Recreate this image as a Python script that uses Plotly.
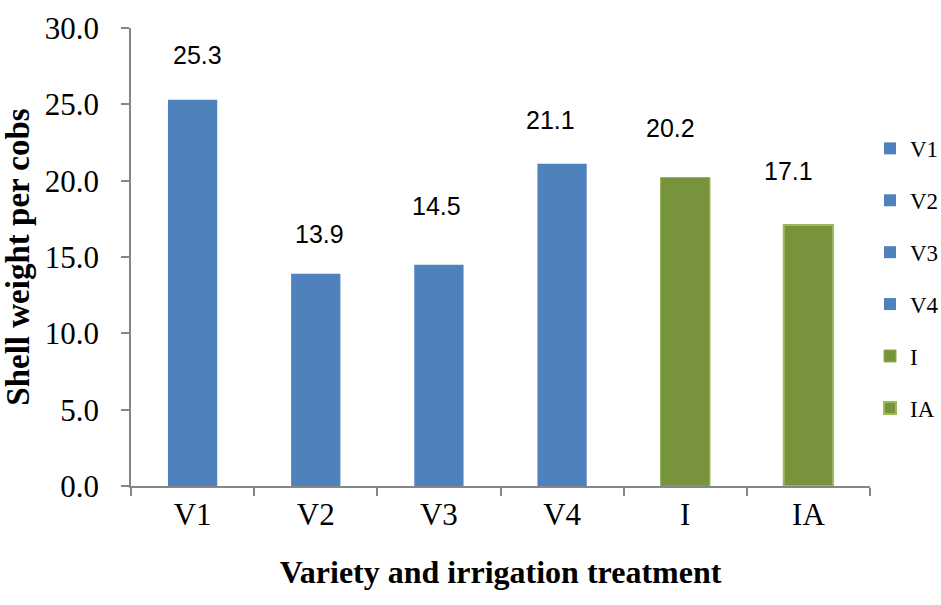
import plotly.graph_objects as go

categories = ["V1", "V2", "V3", "V4", "I", "IA"]
values = [25.3, 13.9, 14.5, 21.1, 20.2, 17.1]
bar_colors = ["#4F81BD", "#4F81BD", "#4F81BD", "#4F81BD", "#77933C", "#77933C"]
edge_colors = ["#4F81BD", "#4F81BD", "#4F81BD", "#4F81BD", "#8FB04E", "#9BBB59"]
edge_widths = [0, 0, 0, 0, 1, 2]
# label placement offsets (pixels) relative to the bar top / centre
label_yshift = [45, 40, 59, 44, 50, 54]
label_xshift = [5, 4, -2, -12, -15, -20]
y_ticks = [0, 5, 10, 15, 20, 25, 30]

SERIF = "Liberation Serif, Times New Roman, serif"

fig = go.Figure()
for i, cat in enumerate(categories):
    fig.add_trace(go.Bar(
        x=[cat], y=[values[i]], name=cat, legendgroup=cat,
        width=0.4,
        marker=dict(color=bar_colors[i],
                    line=dict(color=edge_colors[i], width=edge_widths[i])),
    ))
    fig.add_annotation(
        x=cat, y=values[i], text=f"{values[i]:.1f}", showarrow=False,
        yanchor="middle", xanchor="center",
        yshift=label_yshift[i], xshift=label_xshift[i],
        font=dict(family="Liberation Sans, Arial, sans-serif", size=25, color="#000000"),
    )

axis_color = "#868686"
fig.update_layout(
    width=941, height=605,
    margin=dict(l=131, r=71, t=28, b=119, autoexpand=False),
    paper_bgcolor="white", plot_bgcolor="white",
    barmode="overlay",
    showlegend=True,
    legend=dict(
        x=1.0, xanchor="left", y=0.784, yanchor="top",
        font=dict(family=SERIF, size=23, color="#000000"),
        tracegroupgap=19, itemwidth=30,
        bgcolor="rgba(0,0,0,0)",
    ),
    xaxis=dict(
        categoryorder="array", categoryarray=categories,
        showline=True, linecolor=axis_color, linewidth=1.5,
        ticks="outside", tickson="boundaries", ticklen=8, tickcolor=axis_color, tickwidth=1.5,
        tickfont=dict(family=SERIF, size=31, color="#000000"),
        showgrid=False, zeroline=False,
        title=dict(text="<b>Variety and irrigation treatment</b>", standoff=30,
                   font=dict(family=SERIF, size=32, color="#000000")),
    ),
    yaxis=dict(
        range=[0, 30], tickvals=y_ticks, tickformat=".1f",
        showline=True, linecolor=axis_color, linewidth=1.5,
        ticks="outside", ticklen=8, tickcolor=axis_color, tickwidth=1.5,
        tickfont=dict(family=SERIF, size=31, color="#000000"),
        ticklabelstandoff=16,
        showgrid=False, zeroline=False,
        title=dict(text="<b>Shell weight per cobs</b>", standoff=8,
                   font=dict(family=SERIF, size=33, color="#000000")),
    ),
)

fig.write_html("out.html")
